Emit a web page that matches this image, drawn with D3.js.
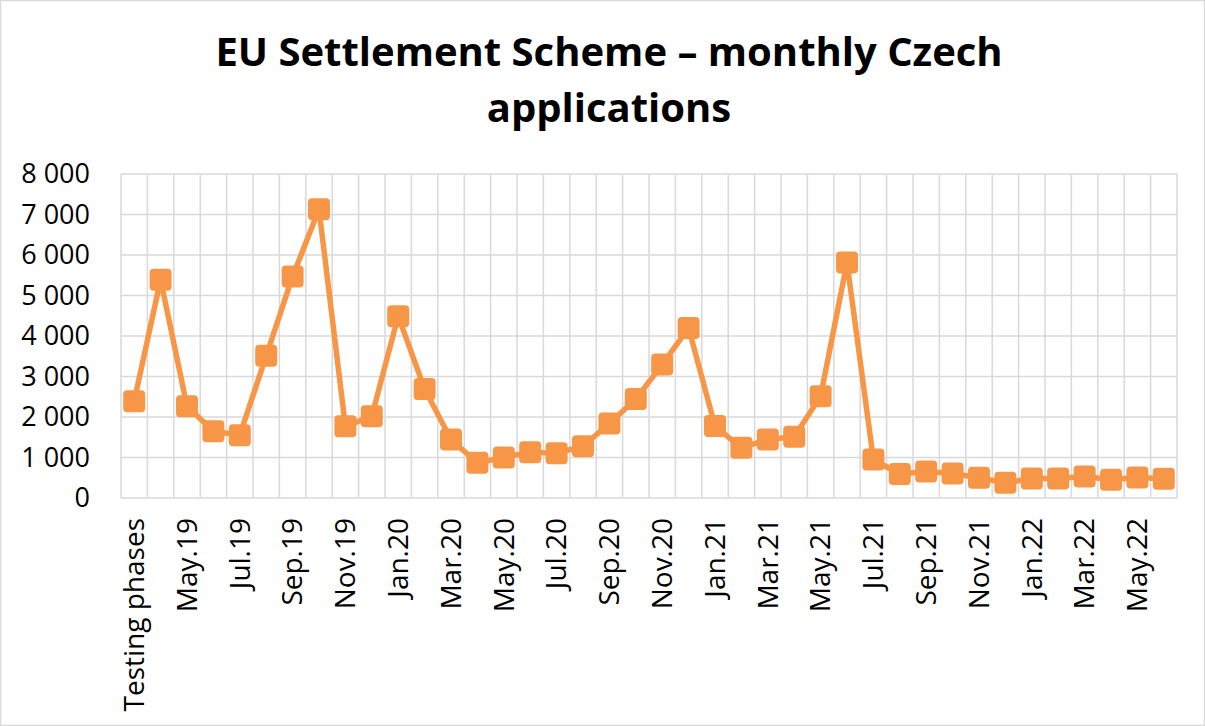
<!DOCTYPE html>
<html>
<head>
<meta charset="utf-8">
<script src="https://cdn.jsdelivr.net/npm/d3@7"></script>
<style>
  html, body { margin: 0; padding: 0; background: #fff; }
  svg { display: block; }
</style>
</head>
<body>
<svg id="chart" width="1205" height="726"></svg>
<script>
const titleLines = ["EU Settlement Scheme \u2013 monthly Czech", "applications"];

const categories = [
  "Testing phases", "Apr.19", "May.19", "Jun.19", "Jul.19", "Aug.19", "Sep.19", "Oct.19", "Nov.19", "Dec.19",
  "Jan.20", "Feb.20", "Mar.20", "Apr.20", "May.20", "Jun.20", "Jul.20", "Aug.20", "Sep.20", "Oct.20", "Nov.20", "Dec.20",
  "Jan.21", "Feb.21", "Mar.21", "Apr.21", "May.21", "Jun.21", "Jul.21", "Aug.21", "Sep.21", "Oct.21", "Nov.21", "Dec.21",
  "Jan.22", "Feb.22", "Mar.22", "Apr.22", "May.22", "Jun.22"
];

const applications = [
  2390, 5390, 2265, 1650, 1550, 3510, 5470, 7130, 1770, 2020,
  4490, 2690, 1445, 870, 1000, 1130, 1105, 1280, 1840, 2445, 3295, 4200,
  1775, 1240, 1445, 1510, 2510, 5815, 950, 590, 655, 605, 500, 375,
  480, 480, 530, 450, 505, 475
];

const yTicks = [0, 1000, 2000, 3000, 4000, 5000, 6000, 7000, 8000];

const W = 1205, H = 726;
const margin = { left: 121, right: 28, top: 174, bottom: 228 };
const plotW = W - margin.left - margin.right;
const plotH = H - margin.top - margin.bottom;

const svg = d3.select("#chart");
const font = "'Open Sans', 'Liberation Sans', sans-serif";
const orange = "#F79646";
const gridColor = "#d9d9d9";

svg.append("rect").attr("x", 0.5).attr("y", 0.5).attr("width", W - 1).attr("height", H - 1)
  .attr("fill", "#fff").attr("stroke", gridColor).attr("stroke-width", 1.5);

// Title
const title = svg.append("text")
  .attr("text-anchor", "middle")
  .attr("font-family", font)
  .attr("font-weight", "bold")
  .attr("font-size", 40)
  .attr("fill", "#000");
titleLines.forEach((t, i) => {
  title.append("tspan").attr("x", 609).attr("y", 66 + i * 56).text(t);
});

const x = d3.scaleBand().domain(categories).range([0, plotW]).padding(0);
const y = d3.scaleLinear().domain([0, 8000]).range([plotH, 0]);

const g = svg.append("g").attr("transform", `translate(${margin.left},${margin.top})`);

// horizontal gridlines
g.append("g").selectAll("line").data(yTicks).join("line")
  .attr("x1", 0).attr("x2", plotW)
  .attr("y1", d => y(d)).attr("y2", d => y(d))
  .attr("stroke", gridColor).attr("stroke-width", 1.5);

// vertical gridlines at category boundaries
const bounds = categories.map(c => x(c)).concat([plotW]);
g.append("g").selectAll("line").data(bounds).join("line")
  .attr("x1", d => d).attr("x2", d => d)
  .attr("y1", 0).attr("y2", plotH)
  .attr("stroke", gridColor).attr("stroke-width", 1.5);

// y axis labels
const yAxis = d3.axisLeft(y).tickValues(yTicks).tickSize(0).tickPadding(31)
  .tickFormat(d => d3.format(",")(d).replace(/,/g, " "));
g.append("g").call(yAxis)
  .call(s => s.select(".domain").remove())
  .selectAll("text")
  .attr("font-family", font).attr("font-size", 27).attr("fill", "#000");

// x axis labels (every other category)
const xAxis = d3.axisBottom(x).tickSize(0)
  .tickValues(categories.filter((c, i) => i % 2 === 0));
const xg = g.append("g").attr("transform", `translate(0,${plotH})`).call(xAxis);
xg.select(".domain").remove();
xg.selectAll("text")
  .attr("font-family", font).attr("font-size", 28).attr("fill", "#000")
  .attr("text-anchor", "end")
  .attr("transform", "rotate(-90)")
  .attr("x", -20).attr("y", 0).attr("dy", "0.35em");

// line
const cx = c => x(c) + x.bandwidth() / 2;
const line = d3.line().x((d, i) => cx(categories[i])).y(d => y(d));
g.append("path").datum(applications)
  .attr("d", line)
  .attr("fill", "none").attr("stroke", orange).attr("stroke-width", 5.5)
  .attr("stroke-linejoin", "round");

// markers
const ms = 22;
g.append("g").selectAll("rect").data(applications).join("rect")
  .attr("x", (d, i) => cx(categories[i]) - ms / 2)
  .attr("y", d => y(d) - ms / 2)
  .attr("width", ms).attr("height", ms)
  .attr("rx", 4).attr("ry", 4)
  .attr("fill", orange);
</script>
</body>
</html>
